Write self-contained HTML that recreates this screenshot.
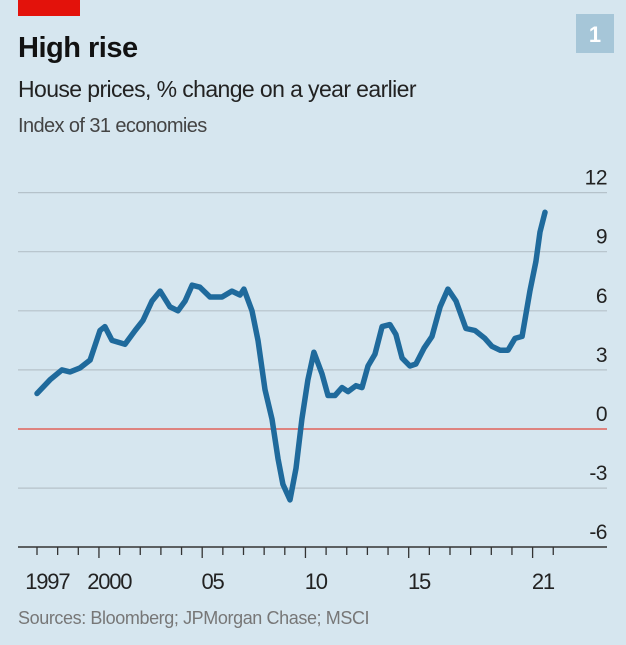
<!DOCTYPE html>
<html><head><meta charset="utf-8"><style>
body{margin:0;background:#d6e6ef;}
#c{position:relative;width:626px;height:645px;background:#d6e6ef;overflow:hidden;font-family:"Liberation Sans",sans-serif;}
</style></head><body>
<div id="c">
<svg id="s" width="626" height="645">
<rect x="18" y="0" width="62" height="16" fill="#e3120b"/>
<text x="18" y="57" font-size="29" font-weight="bold" fill="#121212" letter-spacing="-0.5">High rise</text>
<text x="18" y="97" font-size="23" fill="#222" letter-spacing="-0.6">House prices, % change on a year earlier</text>
<text x="18" y="132" font-size="20" fill="#444" letter-spacing="-0.6">Index of 31 economies</text>
<rect x="576" y="14" width="38" height="39" fill="#a6c6d8"/>
<text x="595" y="42" font-size="22" font-weight="bold" fill="#fff" text-anchor="middle">1</text>
<g id="grid"></g><g id="xax"></g>
<path id="line" fill="none" stroke="#1f6a9c" stroke-width="5.5" stroke-linejoin="round" stroke-linecap="round"/>
<text x="18" y="624" font-size="18" fill="#777" letter-spacing="-0.4">Sources: Bloomberg; JPMorgan Chase; MSCI</text>
</svg>
</div>
<script>
const yTicks=[12,9,6,3,0,-3,-6];
const xLabels=["1997","2000","05","10","15","21"];
const xLabelYears=[1997,2000,2005,2010,2015,2021];
const years=[1997.00,1997.63,1998.21,1998.60,1999.08,1999.57,2000.05,2000.29,2000.63,2001.26,2001.75,2002.13,2002.57,2002.96,2003.44,2003.83,2004.17,2004.51,2004.89,2005.38,2005.96,2006.44,2006.83,2007.02,2007.41,2007.70,2008.04,2008.38,2008.67,2008.91,2009.25,2009.54,2009.83,2010.12,2010.41,2010.80,2011.09,2011.43,2011.77,2012.06,2012.45,2012.74,2013.03,2013.37,2013.71,2014.09,2014.38,2014.68,2015.06,2015.35,2015.74,2016.13,2016.52,2016.90,2017.29,2017.77,2018.21,2018.69,2019.03,2019.42,2019.81,2020.15,2020.49,2020.87,2021.16,2021.36,2021.60];
const values=[1.8,2.5,3.0,2.9,3.1,3.5,5.0,5.2,4.5,4.3,5.0,5.5,6.5,7.0,6.2,6.0,6.5,7.3,7.2,6.7,6.7,7.0,6.8,7.1,6.0,4.5,2.0,0.5,-1.5,-2.8,-3.6,-2.0,0.5,2.5,3.9,2.8,1.7,1.7,2.1,1.9,2.2,2.1,3.2,3.8,5.2,5.3,4.8,3.6,3.2,3.3,4.1,4.7,6.2,7.1,6.5,5.1,5.0,4.6,4.2,4.0,4.0,4.6,4.7,7.0,8.5,10.0,11.0];
const NS="http://www.w3.org/2000/svg";
const X=y=>37+(y-1997)*20.65;
const Y=v=>429-v*19.7;
function mk(t,a,p){const e=document.createElementNS(NS,t);for(const k in a)e.setAttribute(k,a[k]);p.appendChild(e);return e;}
const g=document.getElementById('grid');
yTicks.forEach(v=>{
  if(v!==-6){const l=mk('line',{x1:18,x2:607,y1:Y(v),y2:Y(v),stroke:v===0?'#e0625a':'#b5c2ca','stroke-width':v===0?1.5:1.2},g);
  
  }
  const t=mk('text',{x:607,y:Y(v)-8,'font-size':21,fill:'#222','text-anchor':'end','letter-spacing':'-0.5'},g);
  t.textContent=v;
  
  
});
const xa=document.getElementById('xax');
const ax=mk('line',{x1:18,x2:607,y1:547,y2:547,stroke:'#333','stroke-width':1.5},xa);


for(let yr=1997;yr<=2022;yr++){
  const big=[2000,2005,2010,2015,2021].includes(yr);
  const tk=mk('line',{x1:X(yr),x2:X(yr),y1:547,y2:big?558:555,stroke:'#333','stroke-width':1.3},xa);
  
  
}
xLabels.forEach((s,i)=>{
  const t=mk('text',{x:X(xLabelYears[i]+0.5),y:589,'font-size':22,fill:'#222','text-anchor':'middle','letter-spacing':'-1.2'},xa);
  t.textContent=s;
  
  
});
document.getElementById('line').setAttribute('d',years.map((y,i)=>(i?'L':'M')+X(y).toFixed(1)+','+Y(values[i]).toFixed(1)).join(''));
</script>
</body></html>
